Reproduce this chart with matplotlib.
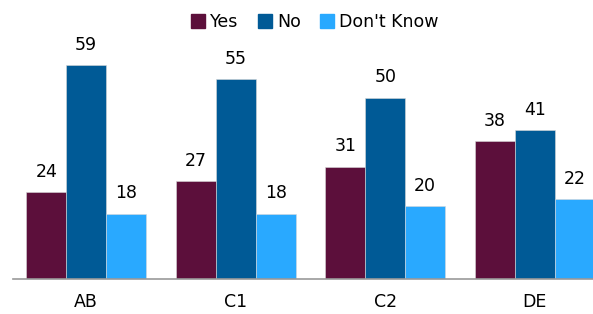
import numpy as np
import matplotlib
matplotlib.use('Agg')
import matplotlib.pyplot as plt

categories = ['AB', 'C1', 'C2', 'DE']
yes = [24, 27, 31, 38]
no = [59, 55, 50, 41]
dont_know = [18, 18, 20, 22]

series = [('Yes', yes, '#5C0F3B'),
          ('No', no, '#005A96'),
          ("Don't Know", dont_know, '#29A9FF')]

fig = plt.figure(figsize=(5.93, 3.14), dpi=100)
ax = fig.add_axes([13 / 593, 35 / 314, 1 - 13 / 593, 254 / 314])

x = np.arange(len(categories))
width = 0.267

for i, (name, vals, color) in enumerate(series):
    pos = x + (i - 1) * width
    ax.bar(pos, vals, width, color=color, label=name,
           edgecolor='#d8d8d8', linewidth=0.4)
    for p, v in zip(pos, vals):
        ax.annotate(str(v), (p, v), xytext=(0, 11), textcoords='offset points',
                    ha='center', va='baseline', fontsize=12.5)

ax.set_xlim(-0.49, 3.39)
ax.set_ylim(0, 70)
ax.set_xticks(x)
ax.set_xticklabels(categories, fontsize=12.5)
ax.tick_params(axis='x', length=0, pad=10)
ax.set_yticks([])
for s in ['top', 'right', 'left']:
    ax.spines[s].set_visible(False)
ax.spines['bottom'].set_color('#999999')
ax.spines['bottom'].set_linewidth(1.2)

handles = [plt.Rectangle((0, 0), 1, 1, color=c) for _, _, c in series]
fig.legend(handles, [n for n, _, _ in series], loc='center',
           bbox_to_anchor=(315 / 593, 1 - 22 / 314), ncol=3, frameon=False,
           fontsize=12.5, handlelength=0.8, handleheight=0.8,
           handletextpad=0.3, columnspacing=1.1)

fig.savefig('out.png', dpi=100)
